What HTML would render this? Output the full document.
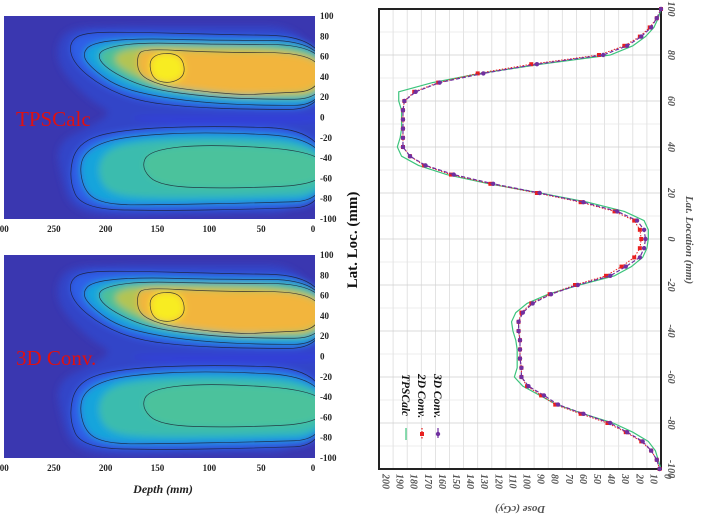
<!DOCTYPE html>
<html><head><meta charset="utf-8">
<style>
body{margin:0;background:#fff;}
svg text{font-family:"Liberation Serif",serif;}
</style></head>
<body>
<svg id="s" width="709" height="520" viewBox="0 0 709 520" xmlns="http://www.w3.org/2000/svg">
<defs>
<filter id="bl" x="-20%" y="-20%" width="140%" height="140%"><feGaussianBlur stdDeviation="3.5"/></filter>
<clipPath id="c1"><rect x="4" y="16" width="311" height="203"/></clipPath>
<clipPath id="c2"><rect x="4" y="255" width="311" height="203"/></clipPath>
</defs>
<g id="maps"></g>
<g id="prof"></g>
</svg>
<script>
// ---------- profile chart data ----------
const locs = [100,96,92,88,84,80,76,72,68,64,60,56,52,48,44,40,36,32,28,24,20,16,12,8,4,0,-4,-8,-12,-16,-20,-24,-28,-32,-36,-40,-44,-48,-52,-56,-60,-64,-68,-72,-76,-80,-84,-88,-92,-96,-100];
const tpsDose = [0,2,5,11,20,36,85,128,162,186,186,184,184,184,185,187,184,172,152,122,86,52,26,12,9,9,10,13,21,33,58,80,95,103,106,105,103,102,102,102,104,98,86,74,55,34,20,9,4,2,0];
const conv2D = [0,3,8,15,26,44,92,130,158,175,182,183,183,183,183,183,178,168,149,121,88,57,33,19,15,14,15,19,28,39,61,79,92,99,101,101,100,100,100,99,99,95,85,75,57,38,25,14,7,3,1];
const conv3D = [0,3,7,14,24,41,88,126,157,174,182,183,183,183,183,183,178,167,147,119,86,55,31,17,12,11,12,15,25,36,59,78,91,98,101,101,100,100,100,99,99,94,83,73,55,36,24,13,7,3,1];
const doseTicks = [0,10,20,30,40,50,60,70,80,90,100,110,120,130,140,150,160,170,180,190,200];
const locTicks = [100,80,60,40,20,0,-20,-40,-60,-80,-100];
const mapLocTicks = [100,80,60,40,20,0,-20,-40,-60,-80,-100];
const depthTicks = [300,250,200,150,100,50,0];

const NS="http://www.w3.org/2000/svg";
function mk(tag,attrs,parent,txt){const e=document.createElementNS(NS,tag);for(const k in attrs)e.setAttribute(k,attrs[k]);if(txt!==undefined)e.textContent=txt;parent.appendChild(e);return e;}

// profile axes
const PL=379,PR=661,PT=9,PB=469;
const px=d=>PR-d*(PR-PL)/200;
const py=l=>PT+(100-l)*(PB-PT)/200;
const prof=document.getElementById('prof');
// grid
for(let d=10;d<200;d+=10){const g=mk('line',{x1:px(d),x2:px(d),y1:PT,y2:PB,stroke:'#dcdcdc','stroke-width':0.8},prof);

}
for(let l=-90;l<100;l+=10){const g=mk('line',{x1:PL,x2:PR,y1:py(l),y2:py(l),stroke:l%20===0?'#cfcfcf':'#e6e6e6','stroke-width':0.8},prof);

}
const fr=mk('rect',{x:PL,y:PT,width:PR-PL,height:PB-PT,fill:'none',stroke:'#222','stroke-width':2},prof);


// dose tick labels (rotated)
doseTicks.forEach(d=>{const t=mk('text',{x:0,y:0,transform:`translate(${px(d)+3.5},474) rotate(90)`,'font-size':10,'font-style':'italic','font-weight':'bold',fill:'#555'},prof,String(d));

});
locTicks.forEach(l=>{const t=mk('text',{x:0,y:0,transform:`translate(${668},${py(l)}) rotate(90)`,'font-size':10,'font-style':'italic','font-weight':'bold',fill:'#555','text-anchor':'middle'},prof,String(l));

});
let t=mk('text',{x:0,y:0,transform:'translate(686,240) rotate(90)','font-size':11,'font-style':'italic','font-weight':'bold',fill:'#555','text-anchor':'middle'},prof,'Lat. Location (mm)');


t=mk('text',{x:0,y:0,transform:'translate(520,506) rotate(180)','font-size':11,'font-style':'italic','font-weight':'bold',fill:'#555','text-anchor':'middle'},prof,'Dose (cGy)');


// series
function pts(arr){return locs.map((l,i)=>px(arr[i])+','+py(l)).join(' ');}
let s=mk('polyline',{points:pts(tpsDose),fill:'none',stroke:'#3cc47c','stroke-width':1.2},prof);


s=mk('polyline',{points:pts(conv2D),fill:'none',stroke:'#e82020','stroke-width':1,'stroke-dasharray':'1.5,1.5'},prof);


locs.forEach((l,i)=>{const m=mk('rect',{x:px(conv2D[i])-2,y:py(l)-2,width:4,height:4,fill:'#e82020'},prof);

});
s=mk('polyline',{points:pts(conv3D),fill:'none',stroke:'#7030a0','stroke-width':1.2,'stroke-dasharray':'4,2'},prof);


locs.forEach((l,i)=>{const m=mk('circle',{cx:px(conv3D[i]),cy:py(l),r:2.2,fill:'#7030a0'},prof);

});
// legend
const lg=mk('g',{},prof);


const legItems=[['TPSCalc','#3cc47c','none',null],['2D Conv.','#e82020','1.5,1.5','sq'],['3D Conv.','#7030a0','4,2','ci']];
legItems.forEach((it,i)=>{const x=406+i*16;
const ln=mk('line',{x1:x,x2:x,y1:428,y2:440,stroke:it[1],'stroke-width':1.2,'stroke-dasharray':it[2]},lg);


if(it[3]==='sq')mk('rect',{x:x-2,y:432,width:4,height:4,fill:it[1]},lg);
if(it[3]==='ci')mk('circle',{cx:x,cy:434,r:2.2,fill:it[1]},lg);
const tx=mk('text',{x:0,y:0,transform:`translate(${x-4},374) rotate(90)`,'font-size':11.5,'font-style':'italic','font-weight':'bold',fill:'#111'},lg,it[0]);

});

// ---------- heatmaps ----------
const maps=document.getElementById('maps');
const hx=d=>315-d*311/300;
function smooth(poly,top){const p=poly.map(q=>[hx(q[0]),top+(100-q[1])*203/200]);const n=p.length;let dd='';
for(let i=0;i<n;i++){const a=p[i],b=p[(i+1)%n];const m=[(a[0]+b[0])/2,(a[1]+b[1])/2];
if(i===0)dd+=`M${m[0]},${m[1]}`;else dd+=` Q${a[0]},${a[1]} ${m[0]},${m[1]}`;}
const a=p[0];const m0=[(p[n-1][0]+a[0])/2,(p[n-1][1]+a[1])/2];
return dd+` Q${a[0]},${a[1]} ${((a[0]+p[1][0])/2)},${((a[1]+p[1][1])/2)} Z`;}
const blueRegion=[[-10,90],[100,90],[200,90],[238,88],[250,70],[245,45],[215,15],[195,5],[215,-8],[250,-25],[245,-60],[235,-90],[200,-98],[100,-94],[-10,-94]];
const layers=[
 ['#2f5fe6',[[-10,80],[100,82],[170,84],[225,84],[238,72],[232,52],[205,30],[170,16],[120,10],[60,8],[-10,8]]],
 ['#3040d8',[[-10,4],[60,3],[120,2],[190,1],[150,-6],[80,-8],[-10,-5]]],
 ['#2f5fe6',[[-10,-12],[100,-8],[190,-12],[230,-25],[238,-60],[225,-90],[150,-92],[50,-90],[-10,-88]]],
 ['#17a4dc',[[-10,76],[100,76],[170,78],[215,74],[225,62],[215,48],[190,30],[150,20],[100,14],[50,12],[-10,12]]],
 ['#17a4dc',[[-10,-20],[100,-14],[180,-18],[215,-28],[228,-45],[222,-75],[200,-86],[150,-86],[50,-84],[-10,-82]]],
 ['#3bbcae',[[-10,-26],[100,-20],[180,-24],[205,-35],[210,-55],[200,-75],[160,-80],[50,-78],[-10,-76]]],
 ['#4cc29c',[[-10,-34],[100,-26],[160,-32],[168,-50],[150,-68],[80,-70],[-10,-66]]],
 ['#4fc096',[[-10,72],[100,72],[170,74],[205,68],[210,58],[195,44],[160,28],[100,20],[50,18],[-10,18]]],
 ['#b3c452',[[-10,68],[170,70],[195,62],[190,50],[160,35],[100,25],[50,22],[-10,22]]],
 ['#f2b53c',[[-5,64],[100,64],[165,68],[172,60],[170,42],[150,32],[120,27],[70,22],[40,24],[-5,26]]],
 ['#f8ec22',[[160,62],[130,64],[124,42],[140,33],[158,38]]]
];
const contours=[layers[0][1],layers[2][1],layers[3][1],layers[4][1],layers[7][1],layers[6][1],layers[9][1],layers[10][1]];
[[16,'TPSCalc','c1','heatmap-tpscalc',229],[255,'3D Conv.','c2','heatmap-3d-conv',468]].forEach(cfg=>{
 const top=cfg[0];
 const g=mk('g',{'clip-path':`url(#${cfg[2]})`},maps);
 
 
 mk('rect',{x:4,y:top,width:311,height:203,fill:'#3a37b0'},g);
 const fg=mk('g',{filter:'url(#bl)'},g);
 mk('path',{d:smooth(blueRegion,top),fill:'#3344c8'},fg);
 layers.forEach(L=>mk('path',{d:smooth(L[1],top),fill:L[0]},fg));
 contours.forEach(c=>{const p=mk('path',{d:smooth(c,top),fill:'none',stroke:'#1a1a2a','stroke-width':0.7,'stroke-opacity':0.8},g);
 
 });
 const lab=mk('text',{x:16,y:top+110,'font-size':21,fill:'#e01010'},maps,cfg[1]);
 
 
 mapLocTicks.forEach(l=>{const tt=mk('text',{x:320,y:top+(100-l)*203/200+3,'font-size':9,'font-weight':'bold',fill:'#222'},maps,String(l));
 
 });
 depthTicks.forEach(d=>{const tt=mk('text',{x:hx(d)-2,y:cfg[4]+3,'font-size':9,'font-weight':'bold',fill:'#222','text-anchor':'middle'},maps,String(d));
 
 });
});
t=mk('text',{x:0,y:0,transform:'translate(357,240) rotate(-90)','font-size':15,'font-weight':'bold',fill:'#111','text-anchor':'middle'},maps,'Lat. Loc. (mm)');


t=mk('text',{x:163,y:493,'font-size':12,'font-weight':'bold','font-style':'italic',fill:'#222','text-anchor':'middle'},maps,'Depth (mm)');


</script>
</body></html>
